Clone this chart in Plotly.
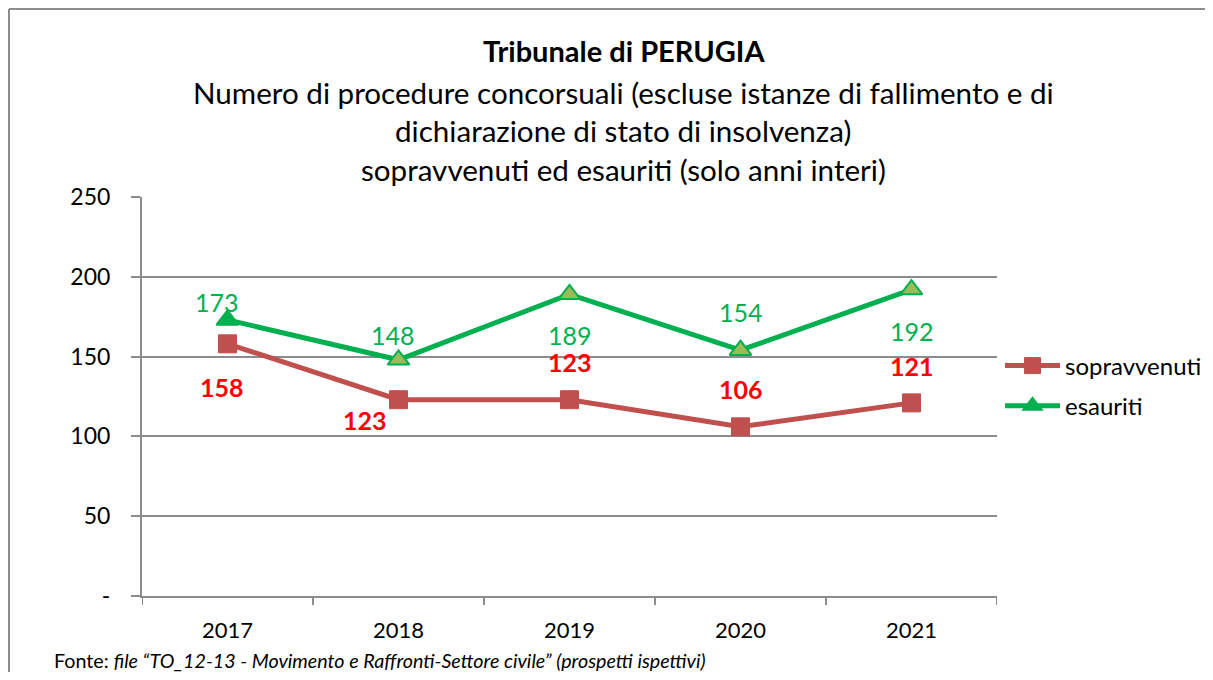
import plotly.graph_objects as go

years = ["2017", "2018", "2019", "2020", "2021"]
sopravvenuti = [158, 123, 123, 106, 121]
esauriti = [173, 148, 189, 154, 192]
y_tickvals = [0, 50, 100, 150, 200, 250]
y_ticktext = ["-", "50", "100", "150", "200", "250"]

title_bold = "Tribunale di PERUGIA"
title_lines = [
    "Numero di procedure concorsuali (escluse istanze di fallimento e di",
    "dichiarazione di stato di insolvenza)",
    "sopravvenuti ed esauriti (solo anni interi)",
]
fonte = "Fonte: <i>file \u201cTO_12-13 - Movimento e Raffronti-Settore civile\u201d (prospetti ispettivi)</i>"

# label offsets in pixels (style only)
red_off = [(-6, -43), (-34, -20), (0, 38), (0, 38), (0, 37)]
green_off = [(-11, 18), (-6, 25), (0, -41), (0, 38), (0, -41)]

FONT = "Lato, 'Open Sans', sans-serif"
RED = "#C0504D"
GREEN = "#00B050"
OLIVE = "#9BBB59"

OFF = 8  # page body margin
W, H = 1213 - 2 * OFF, 680 - 2 * OFF  # fit inside the window, no overflow
# plot area in page pixels
L, R, T, B = 142, 997, 197, 596


def px(x):
    return (x - L) / (R - L)


def py(y):
    return (B - y) / (B - T)


fig = go.Figure()
fig.add_trace(go.Scatter(
    x=list(range(len(years))), y=sopravvenuti, name="sopravvenuti", mode="lines+markers",
    legendgroup="a",
    line=dict(color=RED, width=5),
    marker=dict(symbol="square", size=18, color=RED, line=dict(color=RED, width=1)),
))
fig.add_trace(go.Scatter(
    x=list(range(len(years))), y=esauriti, name="esauriti", mode="lines+markers",
    legendgroup="b",
    line=dict(color=GREEN, width=5),
    marker=dict(symbol="triangle-up", size=19, color=[GREEN] + [OLIVE] * 4,
                line=dict(color=GREEN, width=2)),
))

for i, v in enumerate(sopravvenuti):
    fig.add_annotation(x=i, y=v, text=f"<b>{v}</b>", showarrow=False,
                       xshift=red_off[i][0], yshift=red_off[i][1],
                       font=dict(family=FONT, size=25, color="#FF0000"))
for i, v in enumerate(esauriti):
    fig.add_annotation(x=i, y=v, text=f"{v}", showarrow=False,
                       xshift=green_off[i][0], yshift=green_off[i][1],
                       font=dict(family=FONT, size=25, color=GREEN))

fig.add_annotation(xref="paper", yref="paper", x=px(624), y=py(50), text=f"<b>{title_bold}</b>",
                   showarrow=False, font=dict(family=FONT, size=29, color="black"), yanchor="middle")
for txt, yy in zip(title_lines, [92, 131, 170]):
    fig.add_annotation(xref="paper", yref="paper", x=px(623), y=py(yy), text=txt,
                       showarrow=False, font=dict(family=FONT, size=29.6, color="black"), yanchor="middle")
fig.add_annotation(xref="paper", yref="paper", x=px(52), y=py(660), text=fonte, xanchor="left",
                   showarrow=False, font=dict(family=FONT, size=19.7, color="black"), yanchor="middle")

# outer frame (top and left)
fig.add_shape(type="line", xref="paper", yref="paper", x0=px(9), x1=px(1210), y0=py(9), y1=py(9),
              line=dict(color="#8C8C8C", width=2))
fig.add_shape(type="line", xref="paper", yref="paper", x0=px(9), x1=px(9), y0=py(9), y1=py(675),
              line=dict(color="#8C8C8C", width=2))

fig.update_layout(
    width=W, height=H,
    margin=dict(l=L - OFF, r=W - (R - OFF), t=T - OFF, b=H - (B - OFF), autoexpand=False),
    paper_bgcolor="white", plot_bgcolor="white",
    font=dict(family=FONT, size=20, color="black"),
    showlegend=True,
    legend=dict(xref="container", yref="container",
                x=(1000 - OFF) / W, y=1 - (386 - OFF) / H, xanchor="left", yanchor="middle",
                font=dict(family=FONT, size=24), bgcolor="rgba(0,0,0,0)",
                tracegroupgap=6, itemwidth=55),
    xaxis=dict(range=[-0.5, 4.5], tickvals=list(range(len(years))), ticktext=years,
               showgrid=False, showline=True, automargin=False,
               linecolor="#8C8C8C", linewidth=2, ticks="", zeroline=False,
               tickfont=dict(size=22), ticklabelstandoff=14),
    yaxis=dict(range=[0, 250], tickvals=y_tickvals, ticktext=y_ticktext,
               showgrid=True, gridcolor="#8C8C8C", gridwidth=2, showline=True, automargin=False,
               linecolor="#8C8C8C", linewidth=2, ticks="outside", ticklen=9,
               tickcolor="#8C8C8C", tickwidth=2, zeroline=False,
               tickfont=dict(size=23), ticklabelstandoff=16),
)

# x-axis ticks at category boundaries, placed with the axis scale
for b in [i - 0.5 for i in range(len(years) + 1)]:
    fig.add_shape(type="line", xref="x", yref="paper", x0=b, x1=b, y0=0, y1=py(605),
                  line=dict(color="#8C8C8C", width=2))

fig.write_html("out.html")
